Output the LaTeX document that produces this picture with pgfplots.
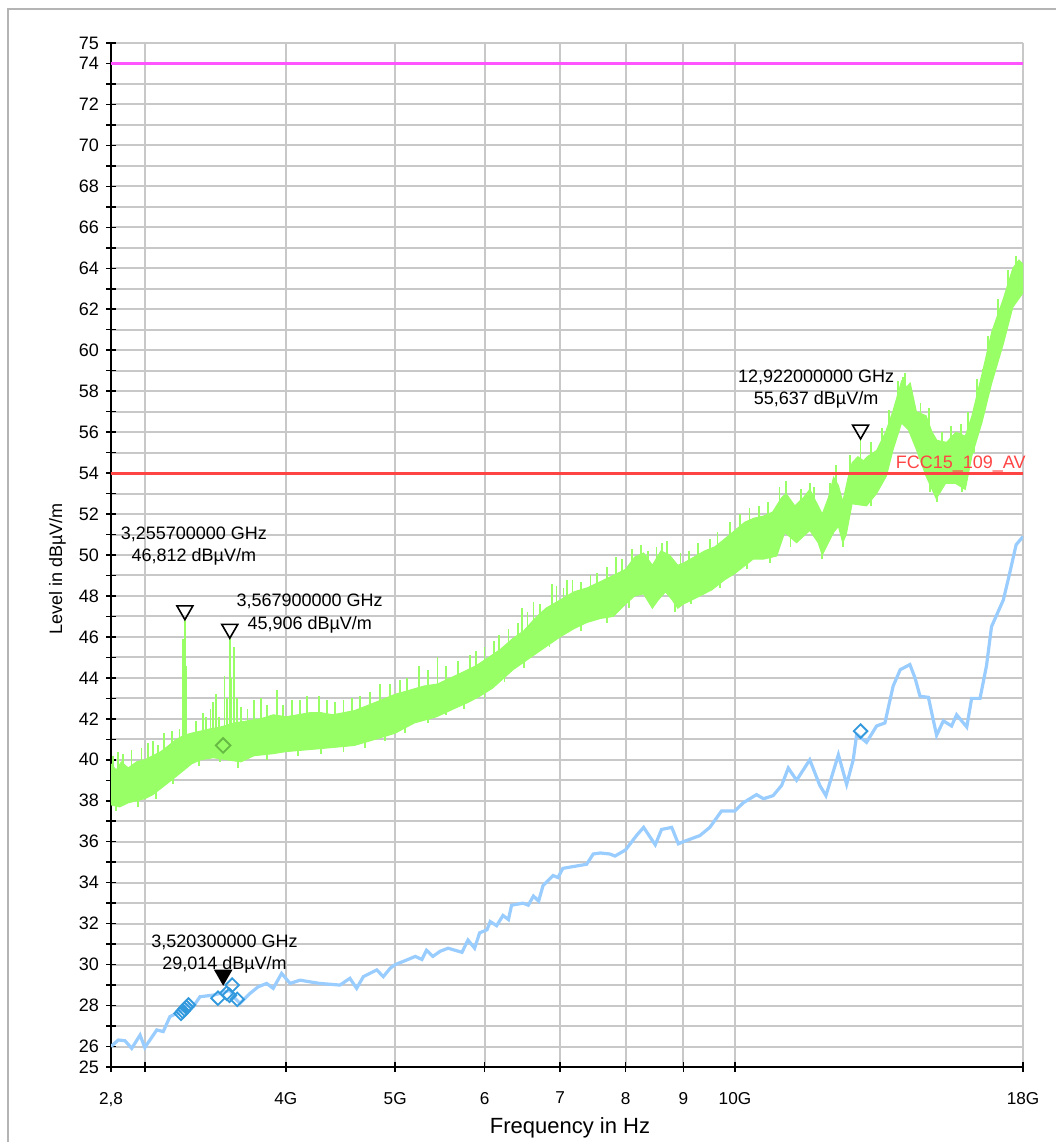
\documentclass[border=0pt]{standalone}
\usepackage{fontspec}
\setmainfont{Liberation Sans}
\usepackage{pgfplots}
\pgfplotsset{compat=1.18}
\definecolor{gridgray}{RGB}{200,200,200}
\definecolor{framegray}{RGB}{180,180,180}
\definecolor{trgreen}{RGB}{153,255,102}
\definecolor{trblue}{RGB}{153,204,255}
\definecolor{mkblue}{RGB}{51,153,221}
\definecolor{mkgreen}{RGB}{102,187,68}
\definecolor{limred}{RGB}{255,68,68}
\definecolor{limmag}{RGB}{255,85,255}
\begin{document}
\begin{tikzpicture}
\path[use as bounding box] (-55.5pt,-37.5pt) rectangle (472.5pt,533.5pt);
\draw[framegray, line width=1pt] (-51.5pt,-40pt) -- (-51.5pt,529pt) -- (476pt,529pt);
\begin{axis}[
  at={(0pt,0pt)}, anchor=south west,
  scale only axis, width=456pt, height=512pt,
  xmode=log, xmin=2.8, xmax=18, ymin=25, ymax=75,
  axis x line*=bottom, axis y line*=left,
  axis line style={black, line width=1pt},
  xtick={2.8,3,4,5,6,7,8,9,10,18},
  xticklabels={{2,8},{},4G,5G,6,7,8,9,10G,18G},
  minor xtick={},
  ytick={25,26,28,30,32,34,36,38,40,42,44,46,48,50,52,54,56,58,60,62,64,66,68,70,72,74,75},
  yticklabels={25,26,28,30,32,34,36,38,40,42,44,46,48,50,52,54,56,58,60,62,64,66,68,70,72,74,75},
  minor ytick={27,29,31,33,35,37,39,41,43,45,47,49,51,53,55,57,59,61,63,65,67,69,71,73},
  xmajorgrids, ymajorgrids, yminorgrids,
  major grid style={gridgray, line width=1pt},
  minor grid style={gridgray, line width=1pt},
  tick align=center,
  major tick length=5pt, minor tick length=5pt,
  every tick/.style={black, line width=0.75pt},
  xticklabel style={font=\fontsize{8.6}{10}\selectfont, yshift=-6.5pt},
  yticklabel style={font=\fontsize{9}{10.5}\selectfont},
  unbounded coords=jump,
  clip mode=individual,
]
% green peak band
\addplot[fill=trgreen, draw=trgreen, line width=0.5pt] coordinates {
(2.80,39.8)(2.83,39.5)(2.86,39.9)(2.90,39.6)(2.95,39.9)(3.00,40.0)(3.05,40.2)(3.10,40.4)(3.15,40.7)(3.20,41.0)
(3.25,41.2)(3.30,41.3)(3.36,41.4)(3.42,41.5)(3.50,41.6)(3.60,41.8)(3.70,41.9)(3.80,42.0)(3.90,42.2)(4.00,42.1)
(4.10,42.2)(4.20,42.3)(4.30,42.3)(4.40,42.2)(4.50,42.3)(4.60,42.4)(4.70,42.6)(4.80,42.8)(4.90,43.0)(5.00,43.2)
(5.15,43.4)(5.30,43.6)(5.45,43.7)(5.60,44.0)(5.75,44.3)(5.90,44.6)(6.05,45.0)(6.20,45.4)(6.35,45.9)(6.50,46.3)
(6.65,46.9)(6.80,47.4)(7.00,47.8)(7.20,48.2)(7.40,48.4)(7.60,48.7)(7.80,49.0)(8.00,49.3)(8.15,49.9)(8.30,50.1)
(8.45,49.5)(8.60,50.2)(8.75,50.0)(8.90,49.5)(9.00,49.6)(9.20,49.9)(9.40,50.2)(9.60,50.4)(9.80,50.8)(10.0,51.2)
(10.2,51.6)(10.4,51.8)(10.6,51.9)(10.8,52.1)(11.0,52.8)(11.1,53.0)(11.3,52.4)(11.5,52.8)(11.65,53.2)(11.8,52.6)
(11.95,52.0)(12.1,52.8)(12.23,53.8)(12.35,53.4)(12.46,52.6)(12.6,53.8)(12.7,54.5)(12.85,54.8)(13.0,54.6)(13.1,54.8)
(13.35,55.1)(13.6,56.0)(13.8,57.0)(14.05,58.5)(14.2,58.2)(14.3,58.4)(14.48,57.0)(14.77,56.8)(14.95,56.0)(15.1,55.6)
(15.4,55.5)(15.7,56.0)(16.0,55.8)(16.22,56.8)(16.55,58.8)(16.89,60.9)(17.29,62.5)(17.63,64.0)(17.85,64.4)(18.0,64.2)
(18.0,62.8)(17.63,62.1)(17.29,60.3)(16.89,58.4)(16.55,56.45)(16.22,54.85)(16.0,53.2)(15.68,53.5)(15.37,53.5)(15.08,52.75)
(14.77,53.85)(14.48,55.15)(14.25,56.1)(14.05,56.45)(13.81,55.15)(13.62,53.85)(13.35,53.0)(13.08,52.4)(12.7,52.5)(12.55,51.0)
(12.46,50.6)(12.35,51.4)(12.23,51.1)(12.05,50.4)(11.95,50.0)(11.85,50.6)(11.65,51.2)(11.34,50.6)(11.07,51.1)(10.89,49.95)
(10.6,49.8)(10.38,49.8)(10.0,49.1)(9.8,48.8)(9.54,48.3)(9.31,48.0)(9.0,47.6)(8.9,47.4)(8.8,47.8)(8.68,48.2)
(8.55,47.8)(8.45,47.4)(8.3,48.1)(8.15,48.0)(8.0,47.6)(7.8,47.0)(7.6,46.9)(7.39,46.7)(7.2,46.4)(7.0,46.0)
(6.67,45.2)(6.36,44.4)(6.1,43.5)(5.94,43.1)(5.8,42.8)(5.64,42.5)(5.44,42.1)(5.2,41.8)(5.0,41.3)(4.8,41.0)
(4.6,40.7)(4.4,40.6)(4.2,40.5)(4.0,40.4)(3.9,40.3)(3.75,40.2)(3.65,39.9)(3.55,40.0)(3.45,40.1)(3.36,40.0)
(3.3,39.8)(3.25,39.5)(3.2,39.2)(3.15,38.9)(3.1,38.6)(3.05,38.3)(3.0,38.1)(2.95,38.0)(2.9,37.9)(2.85,37.7)(2.8,37.8)
};
% green spikes (upward)
\addplot[trgreen, line width=0.9pt] coordinates {
(2.81,39.2)(2.81,40.2)(2.81,nan) (2.84,39.6)(2.84,40.4)(2.84,nan) (2.87,39.3)(2.87,40.3)(2.87,nan)
(2.92,39.7)(2.92,40.5)(2.92,nan) (2.98,39.5)(2.98,40.6)(2.98,nan) (3.02,39.6)(3.02,40.8)(3.02,nan)
(3.05,40.1)(3.05,40.9)(3.05,nan) (3.08,39.8)(3.08,40.7)(3.08,nan) (3.12,40.4)(3.12,41.3)(3.12,nan)
(3.17,40.3)(3.17,41.4)(3.17,nan) (3.22,40.6)(3.22,41.5)(3.22,nan)
(3.245,40.5)(3.245,45.9)(3.245,nan) (3.2557,40.0)(3.2557,46.81)(3.2557,nan) (3.262,40.5)(3.262,44.6)(3.262,nan)
(3.33,40.8)(3.33,41.9)(3.33,nan) (3.38,40.9)(3.38,42.3)(3.38,nan) (3.40,41.2)(3.40,42.1)(3.40,nan)
(3.43,41.0)(3.43,42.5)(3.43,nan) (3.45,41.3)(3.45,42.8)(3.45,nan) (3.47,41.3)(3.47,43.2)(3.47,nan)
(3.49,41.1)(3.49,42.1)(3.49,nan) (3.53,41.3)(3.53,44.1)(3.53,nan) (3.55,41.2)(3.55,43.0)(3.55,nan)
(3.5679,40.5)(3.5679,45.906)(3.5679,nan) (3.58,41.2)(3.58,44.0)(3.58,nan) (3.60,41.4)(3.60,45.5)(3.60,nan)
(3.62,41.5)(3.62,43.0)(3.62,nan) (3.65,41.3)(3.65,42.6)(3.65,nan) (3.70,41.4)(3.70,42.5)(3.70,nan)
(3.75,41.5)(3.75,42.9)(3.75,nan) (3.80,41.8)(3.80,43.0)(3.80,nan) (3.85,41.6)(3.85,42.7)(3.85,nan)
(3.93,42.0)(3.93,43.4)(3.93,nan) (3.98,41.6)(3.98,42.7)(3.98,nan) (4.05,41.7)(4.05,42.9)(4.05,nan)
(4.12,41.7)(4.12,42.9)(4.12,nan) (4.18,41.8)(4.18,43.1)(4.18,nan) (4.28,42.1)(4.28,43.1)(4.28,nan)
(4.35,41.8)(4.35,42.9)(4.35,nan) (4.42,41.7)(4.42,42.8)(4.42,nan) (4.50,42.1)(4.50,42.9)(4.50,nan)
(4.58,41.9)(4.58,43.0)(4.58,nan) (4.65,42.0)(4.65,43.1)(4.65,nan) (4.75,42.2)(4.75,43.3)(4.75,nan)
(4.85,42.4)(4.85,43.7)(4.85,nan) (4.95,42.6)(4.95,43.7)(4.95,nan) (5.05,42.8)(5.05,43.9)(5.05,nan)
(5.12,42.9)(5.12,44.0)(5.12,nan) (5.25,43.3)(5.25,44.6)(5.25,nan) (5.35,43.2)(5.35,44.4)(5.35,nan)
(5.45,43.5)(5.45,45.0)(5.45,nan) (5.55,43.4)(5.55,44.6)(5.55,nan) (5.68,43.7)(5.68,44.8)(5.68,nan)
(5.82,43.9)(5.82,45.1)(5.82,nan) (5.90,44.4)(5.90,45.3)(5.90,nan) (6.00,44.4)(6.00,45.5)(6.00,nan)
(6.12,44.7)(6.12,45.8)(6.12,nan) (6.18,44.8)(6.18,46.1)(6.18,nan) (6.30,45.3)(6.30,46.4)(6.30,nan)
(6.42,45.6)(6.42,46.7)(6.42,nan) (6.48,46.0)(6.48,47.4)(6.48,nan) (6.55,46.0)(6.55,47.2)(6.55,nan)
(6.63,46.7)(6.63,47.7)(6.63,nan) (6.72,46.6)(6.72,47.6)(6.72,nan) (6.88,47.4)(6.88,48.6)(6.88,nan)
(6.95,47.2)(6.95,48.5)(6.95,nan) (7.05,47.4)(7.05,48.4)(7.05,nan) (7.10,47.8)(7.10,48.8)(7.10,nan)
(7.18,47.7)(7.18,48.8)(7.18,nan) (7.30,48.1)(7.30,48.7)(7.30,nan) (7.45,48.0)(7.45,49.0)(7.45,nan)
(7.55,48.1)(7.55,49.1)(7.55,nan) (7.70,48.3)(7.70,49.4)(7.70,nan) (7.85,48.8)(7.85,49.9)(7.85,nan)
(7.95,48.7)(7.95,49.8)(7.95,nan) (8.10,49.2)(8.10,50.3)(8.10,nan) (8.25,49.8)(8.25,50.5)(8.25,nan)
(8.38,49.3)(8.38,50.2)(8.38,nan) (8.52,49.4)(8.52,50.4)(8.52,nan) (8.62,50.0)(8.62,50.6)(8.62,nan)
(8.70,49.6)(8.70,50.7)(8.70,nan) (8.95,49.1)(8.95,50.1)(8.95,nan) (9.10,49.6)(9.10,50.2)(9.10,nan)
(9.28,49.5)(9.28,50.6)(9.28,nan) (9.50,50.1)(9.50,50.8)(9.50,nan) (9.65,50.0)(9.65,51.1)(9.65,nan)
(9.90,50.5)(9.90,51.6)(9.90,nan) (10.1,50.9)(10.1,52.0)(10.1,nan) (10.3,51.5)(10.3,52.3)(10.3,nan)
(10.5,51.4)(10.5,52.4)(10.5,nan) (10.7,51.5)(10.7,52.6)(10.7,nan) (10.95,52.1)(10.95,53.3)(10.95,nan)
(11.1,52.8)(11.1,53.6)(11.1,nan) (11.45,52.2)(11.45,53.2)(11.45,nan) (11.65,53.0)(11.65,53.5)(11.65,nan)
(11.75,52.3)(11.75,53.3)(11.75,nan) (12.15,52.5)(12.15,53.5)(12.15,nan) (12.28,53.2)(12.28,54.4)(12.28,nan)
(12.65,53.7)(12.65,54.9)(12.65,nan) (12.922,54.5)(12.922,55.637)(12.922,nan) (13.2,54.4)(13.2,55.5)(13.2,nan)
(13.5,55.1)(13.5,56.2)(13.5,nan) (13.7,56.0)(13.7,57.1)(13.7,nan) (13.95,57.4)(13.95,58.5)(13.95,nan)
(14.10,58.3)(14.10,58.7)(14.10,nan) (14.15,57.9)(14.15,58.9)(14.15,nan) (14.6,56.4)(14.6,57.4)(14.6,nan)
(14.85,56.0)(14.85,57.2)(14.85,nan) (15.25,55.0)(15.25,56.0)(15.25,nan) (15.55,55.2)(15.55,56.3)(15.55,nan)
(15.85,55.4)(15.85,56.4)(15.85,nan) (16.1,55.7)(16.1,57.0)(16.1,nan) (16.4,57.5)(16.4,58.6)(16.4,nan)
(16.60,58.6)(16.60,59.1)(16.60,nan) (16.75,59.5)(16.75,60.7)(16.75,nan) (17.1,61.3)(17.1,62.5)(17.1,nan)
(17.45,62.7)(17.45,63.9)(17.45,nan) (17.75,63.7)(17.75,64.6)(17.75,nan)
% downward spikes
(2.83,38.2)(2.83,37.5)(2.83,nan) (2.96,38.5)(2.96,37.7)(2.96,nan) (3.07,38.9)(3.07,38.1)(3.07,nan)
(3.18,39.5)(3.18,38.8)(3.18,nan) (3.35,40.4)(3.35,39.7)(3.35,nan) (3.50,40.5)(3.50,39.9)(3.50,nan)
(3.63,40.3)(3.63,39.6)(3.63,nan) (3.85,40.7)(3.85,40.0)(3.85,nan) (4.10,40.9)(4.10,40.2)(4.10,nan)
(4.30,41.0)(4.30,40.3)(4.30,nan) (4.50,41.1)(4.50,40.4)(4.50,nan) (4.70,41.3)(4.70,40.6)(4.70,nan)
(4.90,41.6)(4.90,40.9)(4.90,nan) (5.10,42.0)(5.10,41.3)(5.10,nan) (5.35,42.5)(5.35,41.8)(5.35,nan)
(5.55,42.8)(5.55,42.2)(5.55,nan) (5.75,43.2)(5.75,42.5)(5.75,nan) (6.00,43.7)(6.00,43.0)(6.00,nan)
(6.25,44.4)(6.25,43.8)(6.25,nan) (6.50,45.2)(6.50,44.5)(6.50,nan) (6.85,46.1)(6.85,45.5)(6.85,nan)
(7.30,47.0)(7.30,46.3)(7.30,nan) (7.70,47.4)(7.70,46.7)(7.70,nan) (8.05,48.1)(8.05,47.4)(8.05,nan)
(8.85,48.0)(8.85,47.2)(8.85,nan) (9.15,48.3)(9.15,47.6)(9.15,nan) (9.70,49.0)(9.70,48.4)(9.70,nan)
(10.25,49.9)(10.25,49.3)(10.25,nan) (10.75,50.3)(10.75,49.6)(10.75,nan) (11.2,51.2)(11.2,50.4)(11.2,nan)
(11.95,50.5)(11.95,49.8)(11.95,nan) (12.47,51.1)(12.47,50.4)(12.47,nan) (13.2,53.1)(13.2,52.4)(13.2,nan)
(14.9,53.8)(14.9,53.1)(14.9,nan) (15.1,53.3)(15.1,52.6)(15.1,nan) (15.9,53.8)(15.9,53.1)(15.9,nan)
(16.3,55.8)(16.3,55.0)
};
% blue average trace
\addplot[trblue, line width=1.6pt] coordinates {
(2.800,26.0)(2.842,26.32)(2.881,26.28)(2.921,25.91)(2.971,26.56)(3.000,25.95)(3.074,26.81)(3.115,26.73)(3.158,27.46)(3.223,27.70)
(3.268,28.03)(3.312,27.95)(3.357,28.43)(3.450,28.51)(3.497,28.59)(3.570,28.75)(3.595,28.43)(3.643,28.11)(3.718,28.59)(3.782,28.92)
(3.847,29.08)(3.899,28.84)(3.966,29.57)(4.035,29.08)(4.118,29.24)(4.200,29.16)(4.288,29.08)(4.467,29.0)(4.559,29.33)(4.622,28.84)
(4.685,29.41)(4.816,29.74)(4.880,29.41)(4.949,29.82)(5.000,30.0)(5.08,30.15)(5.21,30.4)(5.28,30.25)(5.33,30.7)(5.40,30.4)
(5.48,30.65)(5.57,30.8)(5.73,30.6)(5.80,31.2)(5.88,30.8)(5.94,31.55)(6.03,31.7)(6.07,32.1)(6.15,31.9)(6.23,32.4)
(6.30,32.2)(6.34,32.9)(6.49,33.0)(6.56,32.9)(6.63,33.35)(6.70,33.1)(6.76,33.85)(6.90,34.35)(6.97,34.25)(7.04,34.7)
(7.39,34.9)(7.49,35.4)(7.60,35.45)(7.75,35.4)(7.83,35.3)(8.0,35.6)(8.18,36.3)(8.30,36.7)(8.50,35.85)(8.61,36.6)
(8.79,36.7)(8.91,35.9)(9.0,36.0)(9.31,36.3)(9.50,36.7)(9.73,37.5)(10.0,37.5)(10.17,37.9)(10.45,38.3)(10.60,38.1)
(10.81,38.25)(11.0,38.75)(11.15,39.6)(11.34,39.0)(11.65,40.0)(11.89,38.75)(12.04,38.25)(12.35,40.25)(12.56,38.8)(12.73,40.0)
(12.82,41.25)(13.08,40.85)(13.35,41.65)(13.58,41.8)(13.81,43.6)(14.01,44.4)(14.29,44.65)(14.44,44.0)(14.59,43.1)(14.84,43.05)
(15.09,41.2)(15.30,41.9)(15.56,41.65)(15.72,42.2)(16.05,41.6)(16.21,43.0)(16.49,43.0)(16.71,44.6)(16.88,46.5)(17.29,47.8)
(17.5,49.0)(17.75,50.5)(18.0,50.9)
};
% limit lines
\addplot[limmag, line width=1.5pt] coordinates {(2.8,74)(18,74)};
\addplot[limred, line width=1.5pt] coordinates {(2.8,54)(18,54)};
\node[anchor=base east, text=limred, font=\fontsize{9}{10.5}\selectfont, inner sep=0pt] at ([xshift=1.5pt,yshift=2.2pt]axis cs:18,54) {FCC15\_109\_AV};
% diamonds
\addplot[only marks, mark=square, mark size=2.4pt, mark options={rotate=45, draw=mkblue, line width=0.9pt, fill=none}] coordinates {
(3.230,27.62)(3.242,27.72)(3.254,27.82)(3.266,27.92)(3.279,28.03)
(3.483,28.36)(3.545,28.6)(3.586,29.0)(3.565,28.5)(3.623,28.3)
(12.922,41.4)
};
\addplot[only marks, mark=square, mark size=2.6pt, mark options={rotate=45, draw=mkgreen, line width=0.9pt, fill=none}] coordinates {(3.52,40.7)};
% peak markers
\addplot[only marks, mark=triangle, mark size=4.6pt, mark options={yshift=4.9pt, rotate=180, draw=black, line width=0.8pt, fill=none}] coordinates {(3.2557,46.812)(3.5679,45.906)(12.922,55.637)};
\addplot[only marks, mark=triangle*, mark size=4.6pt, mark options={yshift=4.9pt, rotate=180, draw=black, fill=black, line width=0.8pt}] coordinates {(3.5203,29.014)};
% annotations
\node[align=center, font=\fontsize{9}{11}\selectfont, inner sep=0pt] at (axis cs:3.316,50.44) {3,255700000 GHz\\46,812 dBµV/m};
\node[align=center, font=\fontsize{9}{11.5}\selectfont, inner sep=0pt] at (axis cs:4.20,47.15) {3,567900000 GHz\\45,906 dBµV/m};
\node[align=center, font=\fontsize{9}{11}\selectfont, inner sep=0pt] at (axis cs:11.80,58.11) {12,922000000 GHz\\55,637 dBµV/m};
\node[align=center, font=\fontsize{9}{11}\selectfont, inner sep=0pt] at (axis cs:3.53,30.52) {3,520300000 GHz\\29,014 dBµV/m};
\end{axis}
\node[rotate=90, font=\fontsize{9}{10.5}\selectfont] at (-26.75pt,249pt) {Level in dBµV/m};
\node[font=\fontsize{11}{13}\selectfont] at (229.5pt,-30.5pt) {Frequency in Hz};
\end{tikzpicture}
\end{document}
